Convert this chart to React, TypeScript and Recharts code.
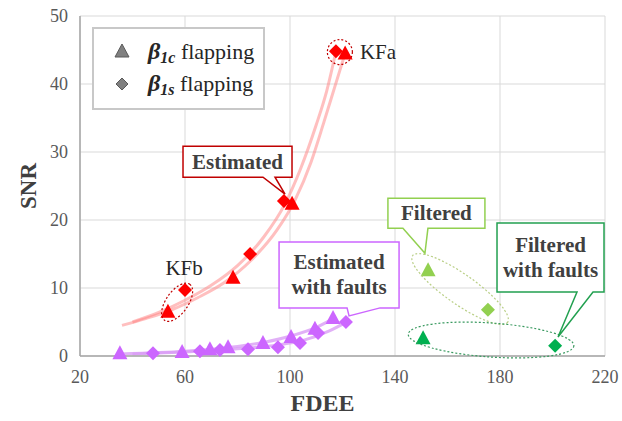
import React from 'react';
import {
  ComposedChart, Line, Scatter, XAxis, YAxis, CartesianGrid, ReferenceDot,
} from 'recharts';

const FONT = 'Liberation Serif';

// axis ticks
const xTicks = [20, 60, 100, 140, 180, 220];
const yTicks = [0, 10, 20, 30, 40, 50];

// estimated (red)
const estCx = [53.5, 78.3, 100.8, 121];
const estCy = [6.5, 11.5, 22.4, 44.5];
const estSx = [60, 84.8, 97.7, 117.5];
const estSy = [9.7, 15.0, 22.8, 44.8];

// estimated with faults (purple)
const faultCx = [35.2, 58.9, 69.5, 76.4, 89.7, 100.4, 109.5, 116.4];
const faultCy = [0.4, 0.6, 1.0, 1.3, 1.9, 2.8, 4.0, 5.6];
const faultSx = [47.8, 65.7, 73.3, 84.0, 95.4, 103.8, 110.7, 121.3];
const faultSy = [0.4, 0.7, 0.9, 1.0, 1.3, 1.9, 3.4, 5.0];

// filtered (light green) and filtered with faults (dark green)
const filtCx = [152.6];
const filtCy = [12.6];
const filtSx = [175.4];
const filtSy = [6.8];
const ffCx = [150.7];
const ffCy = [2.6];
const ffSx = [201];
const ffSy = [1.5];

// trend lines
const trendCx = [36, 45, 55, 65, 75, 85, 95, 102, 108, 113, 117, 121];
const trendCy = [4.5, 5.5, 6.8, 8.6, 10.8, 14.0, 18.5, 23.0, 28.5, 34.5, 39.5, 44.5];
const trendSx = [40, 50, 60, 70, 80, 90, 98, 104, 110, 114, 117.5];
const trendSy = [5.0, 6.4, 8.2, 10.4, 13.3, 17.5, 22.3, 27.5, 34.0, 39.0, 44.8];
const ftrendCx = [35, 50, 60, 70, 80, 90, 100, 110, 117];
const ftrendCy = [0.3, 0.5, 0.7, 1.0, 1.4, 2.0, 2.9, 4.2, 5.6];
const ftrendSx = [40, 55, 65, 75, 85, 95, 105, 115, 122];
const ftrendSy = [0.3, 0.5, 0.7, 0.9, 1.2, 1.6, 2.3, 3.7, 5.1];

const zip = (xs: number[], ys: number[]) => xs.map((x, i) => ({ x, y: ys[i] }));

const RED = '#ff0000';
const PURPLE = '#cc66ff';
const LGREEN = '#92d050';
const DGREEN = '#00b050';

const tri = (color: string) => (p: any) => (
  <polygon
    points={`${p.cx},${p.cy - 8} ${p.cx + 7.5},${p.cy + 6} ${p.cx - 7.5},${p.cy + 6}`}
    fill={color}
  />
);
const dia = (color: string) => (p: any) => (
  <polygon
    points={`${p.cx},${p.cy - 7} ${p.cx + 7},${p.cy} ${p.cx},${p.cy + 7} ${p.cx - 7},${p.cy}`}
    fill={color}
  />
);

// callout box with a pointer; coordinates relative to the pointer tip
const callout = (
  box: number[], base: number[], lines: string[], color: string,
) => (p: any) => {
  const { cx, cy } = p;
  const [x0, y0, x1, y1] = box;
  const d = `M${cx + x0},${cy + y0} H${cx + x1} V${cy + y1} H${cx + base[1]} L${cx},${cy} L${cx + base[0]},${cy + y1} H${cx + x0} Z`;
  const mx = cx + (x0 + x1) / 2;
  const my = cy + (y0 + y1) / 2;
  return (
    <g>
      <path d={d} fill="#fff" stroke={color} strokeWidth={1.5} />
      {lines.map((t, i) => (
        <text
          key={t}
          x={mx}
          y={my + (i - (lines.length - 1) / 2) * 25}
          textAnchor="middle"
          dominantBaseline="central"
          fontFamily={FONT}
          style={{ fontFamily: FONT }}
          fontWeight="bold"
          fontSize={21}
          fill="#404040"
        >
          {t}
        </text>
      ))}
    </g>
  );
};

const ellipse = (
  rx: number, ry: number, rot: number, color: string, label?: string, lx = 0, ly = 0, anchor = 'middle',
) => (p: any) => (
  <g>
    <ellipse
      cx={p.cx}
      cy={p.cy}
      rx={rx}
      ry={ry}
      transform={`rotate(${rot} ${p.cx} ${p.cy})`}
      fill="none"
      stroke={color}
      strokeWidth={1.2}
      strokeDasharray="2 2"
    />
    {label && (
      <text
        x={p.cx + lx}
        y={p.cy + ly}
        textAnchor={anchor}
        dominantBaseline="central"
        fontFamily={FONT}
        style={{ fontFamily: FONT }}
        fontSize={21}
        fill="#262626"
      >
        {label}
      </text>
    )}
  </g>
);

const LegendBox = () => (
  <div
    style={{
      position: 'absolute', left: 92, top: 27, width: 173, height: 83,
      boxSizing: 'border-box', border: '2px solid #c8c8c8', background: '#fff',
    }}
  >
    <svg width={169} height={79}>
      <polygon points="28,15 35,28 21,28" fill="#808080" stroke="#595959" strokeWidth={1} />
      <polygon points="28,49 34,55 28,61 22,55" fill="#808080" stroke="#595959" strokeWidth={1} />
      <text x={54} y={30} fill="#262626" style={{ fontFamily: FONT }}>
        <tspan fontSize={24} fontWeight="bold" fontStyle="italic">β</tspan>
        <tspan fontSize={16} fontWeight="bold" fontStyle="italic" dy={4}>1c</tspan>
        <tspan fontSize={22} dy={-4}> flapping</tspan>
      </text>
      <text x={54} y={62} fill="#262626" style={{ fontFamily: FONT }}>
        <tspan fontSize={24} fontWeight="bold" fontStyle="italic">β</tspan>
        <tspan fontSize={16} fontWeight="bold" fontStyle="italic" dy={4}>1s</tspan>
        <tspan fontSize={22} dy={-4}> flapping</tspan>
      </text>
    </svg>
  </div>
);

const tickStyle = { fontSize: 18, fill: '#595959', fontFamily: FONT };

export default function App() {
  return (
    <div style={{ position: 'absolute', left: 0, top: 0, width: 622, height: 421, background: '#fff', fontFamily: FONT }}>
      <ComposedChart
        width={622}
        height={421}
        margin={{ top: 16, right: 17, left: 10, bottom: 5 }}
        style={{ fontFamily: FONT }}
      >
        <CartesianGrid stroke="#d9d9d9" />
        <XAxis
          type="number"
          dataKey="x"
          domain={[20, 220]}
          ticks={xTicks}
          height={60}
          tickLine={false}
          tickMargin={8}
          stroke="#a6a6a6"
          strokeWidth={1.5}
          tick={tickStyle}
          label={{
            value: 'FDEE', position: 'insideBottom', offset: 5, dx: -20,
            style: { fontSize: 24, fontWeight: 'bold', fill: '#404040', fontFamily: FONT },
          }}
        />
        <YAxis
          type="number"
          dataKey="y"
          domain={[0, 50]}
          ticks={yTicks}
          width={70}
          tickLine={false}
          tickMargin={6}
          stroke="#a6a6a6"
          strokeWidth={1.5}
          tick={tickStyle}
          label={{
            value: 'SNR', angle: -90, position: 'center', dx: -17,
            style: { fontSize: 23, fontWeight: 'bold', fill: '#404040', fontFamily: FONT },
          }}
        />

        <Line data={zip(trendCx, trendCy)} dataKey="y" type="monotone" stroke="#ff8080" strokeOpacity={0.5} strokeWidth={3} dot={false} activeDot={false} isAnimationActive={false} legendType="none" />
        <Line data={zip(trendSx, trendSy)} dataKey="y" type="monotone" stroke="#ff8080" strokeOpacity={0.5} strokeWidth={3} dot={false} activeDot={false} isAnimationActive={false} legendType="none" />
        <Line data={zip(ftrendCx, ftrendCy)} dataKey="y" type="monotone" stroke="#d99cf5" strokeOpacity={0.8} strokeWidth={3} dot={false} activeDot={false} isAnimationActive={false} legendType="none" />
        <Line data={zip(ftrendSx, ftrendSy)} dataKey="y" type="monotone" stroke="#d99cf5" strokeOpacity={0.8} strokeWidth={3} dot={false} activeDot={false} isAnimationActive={false} legendType="none" />

        <Scatter data={zip(estSx, estSy)} shape={dia(RED)} isAnimationActive={false} legendType="none" />
        <Scatter data={zip(estCx, estCy)} shape={tri(RED)} isAnimationActive={false} legendType="none" />
        <Scatter data={zip(faultSx, faultSy)} shape={dia(PURPLE)} isAnimationActive={false} legendType="none" />
        <Scatter data={zip(faultCx, faultCy)} shape={tri(PURPLE)} isAnimationActive={false} legendType="none" />
        <Scatter data={zip(filtCx, filtCy)} shape={tri(LGREEN)} isAnimationActive={false} legendType="none" />
        <Scatter data={zip(filtSx, filtSy)} shape={dia(LGREEN)} isAnimationActive={false} legendType="none" />
        <Scatter data={zip(ffCx, ffCy)} shape={tri(DGREEN)} isAnimationActive={false} legendType="none" />
        <Scatter data={zip(ffSx, ffSy)} shape={dia(DGREEN)} isAnimationActive={false} legendType="none" />

        {/* dashed groupings */}
        <ReferenceDot x={119} y={44.7} shape={ellipse(12.5, 12.5, 0, '#c00000', 'KFa', 20, 0, 'start')} />
        <ReferenceDot x={57} y={7.9} shape={ellipse(22, 11, -55, '#c00000', 'KFb', 7, -34)} />
        <ReferenceDot x={164.8} y={9.85} shape={ellipse(58, 15, 35, '#b9cf86')} />
        <ReferenceDot x={176.6} y={2.35} shape={ellipse(83, 17, 4, '#3a9a60')} />

        {/* callouts */}
        <ReferenceDot x={98.1} y={23.8} shape={callout([-102, -48, 7, -17], [-22, -10], ['Estimated'], '#c00000')} />
        <ReferenceDot x={122.5} y={5.9} shape={callout([-70, -74, 50, -8], [-2, 31], ['Estimated', 'with faults'], PURPLE)} />
        <ReferenceDot x={151.4} y={15.1} shape={callout([-37, -55, 60, -25], [-22, 3], ['Filtered'], LGREEN)} />
        <ReferenceDot x={202.1} y={2.8} shape={callout([-61, -114, 46, -45], [19, 35], ['Filtered', 'with faults'], '#22a050')} />
      </ComposedChart>
      <LegendBox />
    </div>
  );
}
